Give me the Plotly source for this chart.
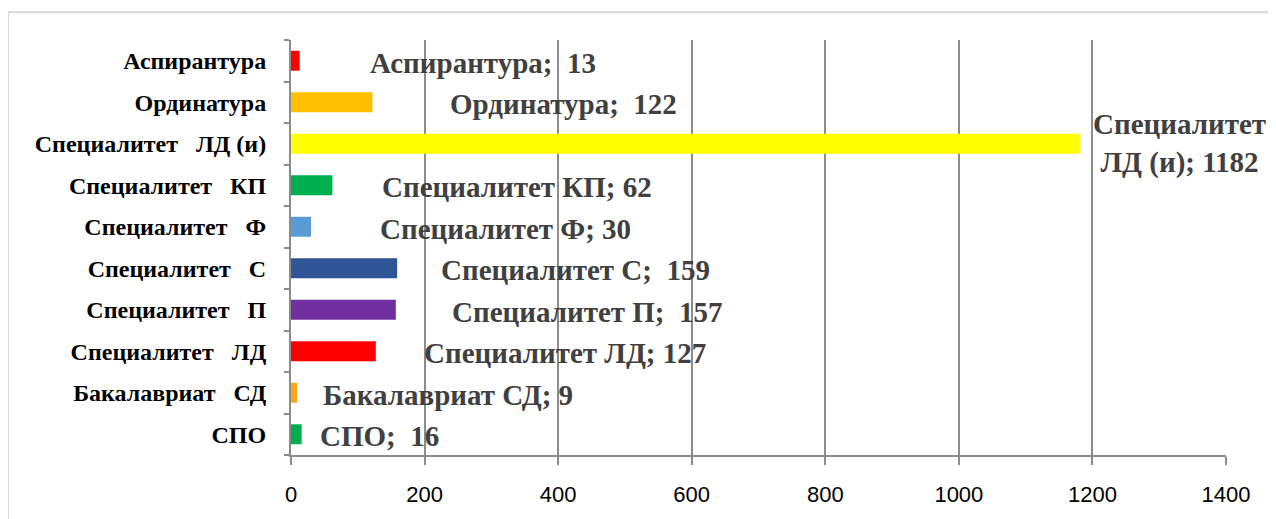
import plotly.graph_objects as go

NB = "\u00a0"
# bottom -> top
categories = ["СПО", "Бакалавриат   СД", "Специалитет   ЛД", "Специалитет   П",
              "Специалитет   С", "Специалитет   Ф", "Специалитет   КП",
              "Специалитет   ЛД (и)", "Ординатура", "Аспирантура"]
label_names = ["СПО", "Бакалавриат СД", "Специалитет ЛД", "Специалитет П",
               "Специалитет С", "Специалитет Ф", "Специалитет КП",
               "Специалитет<br>ЛД (и)", "Ординатура", "Аспирантура"]
values = [16, 9, 127, 157, 159, 30, 62, 1182, 122, 13]
colors = ["#00B050", "#FFA31A", "#FF0000", "#7030A0", "#2F5597", "#5B9BD5",
          "#00B050", "#FFFF00", "#FFC000", "#FF0000"]
tick_values = [0, 200, 400, 600, 800, 1000, 1200, 1400]

# label placement (data units, left edge) -- layout only
label_x = [40, 45, 196, 238, 222, 130, 133, 1331, 235, 115]
label_sep = [";" + NB + NB, "; ", "; ", ";" + NB + NB, ";" + NB + NB, "; ", "; ", "; ", ";" + NB + NB, ";" + NB + NB]

W, H = 1268, 511
L, T, PW, PH = 283, 32, 935, 418

fig = go.Figure(go.Bar(
    y=categories, x=values, orientation="h",
    marker=dict(color=colors, line=dict(width=0)),
    width=0.48, hoverinfo="skip",
))

for i, (cat, nm, v) in enumerate(zip(categories, label_names, values)):
    two_line = "<br>" in nm
    fig.add_annotation(
        x=label_x[i], y=cat, xref="x", yref="y",
        text=f"{nm}{label_sep[i]}{v}",
        showarrow=False,
        xanchor="center" if two_line else "left",
        align="center",
        yshift=0 if two_line else -2,
        font=dict(family="Liberation Serif", size=29, color="#404040", weight="bold"),
    )

fig.update_layout(
    width=W, height=H,
    margin=dict(l=L, r=W - L - PW, t=T, b=H - T - PH),
    paper_bgcolor="white", plot_bgcolor="white",
    showlegend=False,
    shapes=[dict(type="rect", xref="paper", yref="paper",
                 x0=(0 - L) / PW, x1=(W + 40 - L) / PW,
                 y0=(T + PH - (H + 40)) / PH, y1=(T + PH - 4) / PH,
                 line=dict(color="#D9D9D9", width=2), fillcolor="rgba(0,0,0,0)",
                 layer="below")],
)
fig.update_xaxes(
    range=[0, 1400], tickvals=tick_values,
    showgrid=True, gridcolor="#8C8C8C", gridwidth=2,
    showline=True, linecolor="#8C8C8C", linewidth=2,
    ticks="outside", ticklen=8, tickcolor="#8C8C8C", tickwidth=2,
    tickfont=dict(family="Liberation Sans", size=22, color="black"),
    ticklabelstandoff=11, zeroline=False,
)
fig.update_yaxes(
    type="category", categoryorder="array", categoryarray=categories,
    tickvals=categories, ticktext=[c.replace(" ", NB) for c in categories],
    showgrid=False, showline=True, linecolor="#8C8C8C", linewidth=2,
    ticks="outside", ticklen=5, tickcolor="#8C8C8C", tickwidth=2,
    tickson="boundaries",
    tickfont=dict(family="Liberation Serif", size=24, color="black", weight="bold"),
    ticklabelstandoff=18,
)

fig.write_html("out.html")
